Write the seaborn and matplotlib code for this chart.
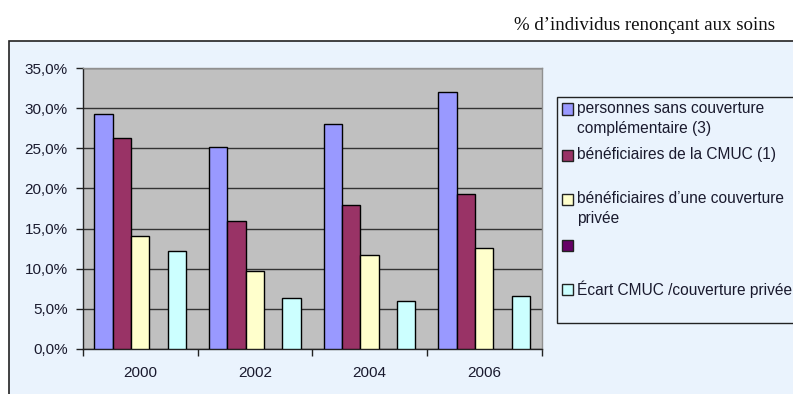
import numpy as np
import pandas as pd
import matplotlib
matplotlib.use("Agg")
import matplotlib.pyplot as plt
from matplotlib.patches import Rectangle
from matplotlib.ticker import FuncFormatter, FixedLocator
import seaborn as sns

# ---- data ----
years = ["2000", "2002", "2004", "2006"]
series_names = [
    "personnes sans couverture\ncomplémentaire (3)",
    "bénéficiaires de la CMUC (1)",
    "bénéficiaires d\u2019une couverture\nprivée",
    "",
    "Écart CMUC /couverture privée",
]
sans_couverture = [29.3, 25.1, 28.0, 32.0]
cmuc = [26.3, 16.0, 17.9, 19.3]
couverture_privee = [14.1, 9.75, 11.75, 12.6]
empty_series = [np.nan, np.nan, np.nan, np.nan]
ecart = [12.2, 6.4, 6.0, 6.6]
yticks = [0, 5, 10, 15, 20, 25, 30, 35]
title = "% d\u2019individus renonçant aux soins"

colors = ["#9999FF", "#993366", "#FFFFCC", "#660066", "#CCFFFF"]
keys = ["s0", "s1", "s2", "s3", "s4"]
all_vals = [sans_couverture, cmuc, couverture_privee, empty_series, ecart]

rows = []
for k, vals in zip(keys, all_vals):
    for y, v in zip(years, vals):
        rows.append({"year": y, "serie": k, "value": v})
df = pd.DataFrame(rows)

W, H = 793, 394
plt.rcParams["font.family"] = ["Liberation Sans", "DejaVu Sans"]
fig = plt.figure(figsize=(W / 100, H / 100), dpi=100)
fig.patch.set_facecolor("white")

# chart frame
frame = Rectangle((9 / W, -0.1), 1.0, 1 - 41 / H + 0.1, transform=fig.transFigure,
                  facecolor="#EAF3FD", edgecolor="#222222", lw=1.2, zorder=-5)
fig.patches.append(frame)

ax = fig.add_axes([83 / W, 1 - 349 / H, (541.5 - 83) / W, (349 - 68) / H])
ax.set_zorder(2)
ax.set_facecolor("#C0C0C0")

pal = dict(zip(keys, colors))
sns.barplot(data=df, x="year", y="value", hue="serie", hue_order=keys,
            order=years, palette=pal, width=0.8, gap=0, edgecolor="black",
            linewidth=1.0, saturation=1, ax=ax, legend=False, zorder=3)

ax.set_ylim(0, 35)
ax.set_xlim(-0.5, 3.5)
ax.yaxis.set_major_locator(FixedLocator(yticks))
ax.yaxis.set_major_formatter(FuncFormatter(lambda v, p: f"{v:.1f}".replace(".", ",") + "%"))
ax.grid(axis="y", color="#333333", lw=1.0, zorder=1)
ax.set_axisbelow(True)
ax.set_xlabel("")
ax.set_ylabel("")

for s in ["top", "right"]:
    ax.spines[s].set_color("#909090")
    ax.spines[s].set_linewidth(1.0)
for s in ["left", "bottom"]:
    ax.spines[s].set_color("#222222")
    ax.spines[s].set_linewidth(1.0)

ax.tick_params(axis="y", length=5, width=1, color="#222222", labelsize=11,
               labelcolor="#1a1a2e", pad=6)
ax.set_xticks(np.arange(len(years)))
ax.set_xticklabels(years)
ax.tick_params(axis="x", length=0, labelsize=11, labelcolor="#1a1a2e", pad=12)
ax.set_xticks(np.arange(-0.5, len(years) + 0.5, 1.0), minor=True)
ax.tick_params(axis="x", which="minor", length=5, width=1, color="#222222")

# legend box (drawn in figure coordinates)
lb = Rectangle((556.5 / W, 1 - 323 / H), 1.0, (323 - 97) / H, transform=fig.transFigure,
               facecolor="#EAF3FD", edgecolor="#222222", lw=1.0, zorder=3)
fig.patches.append(lb)
centers = [109, 155, 199, 245, 289]
for c, lab, yc in zip(colors, series_names, centers):
    sq = Rectangle((562 / W, 1 - (yc + 5.5) / H), 11 / W, 11 / H,
                   transform=fig.transFigure, facecolor=c, edgecolor="#222222",
                   lw=1.0, zorder=4)
    fig.patches.append(sq)
    fig.text(577 / W, 1 - (yc - 8) / H, lab, ha="left", va="top", fontsize=11.2,
             color="#1a1a2e", linespacing=1.4, zorder=5)

fig.text(775 / W, 1 - 25 / H, title, ha="right", va="center", fontsize=13.6,
         family=["Liberation Serif", "DejaVu Serif"], color="#111111")

fig.savefig("out.png", dpi=100)
